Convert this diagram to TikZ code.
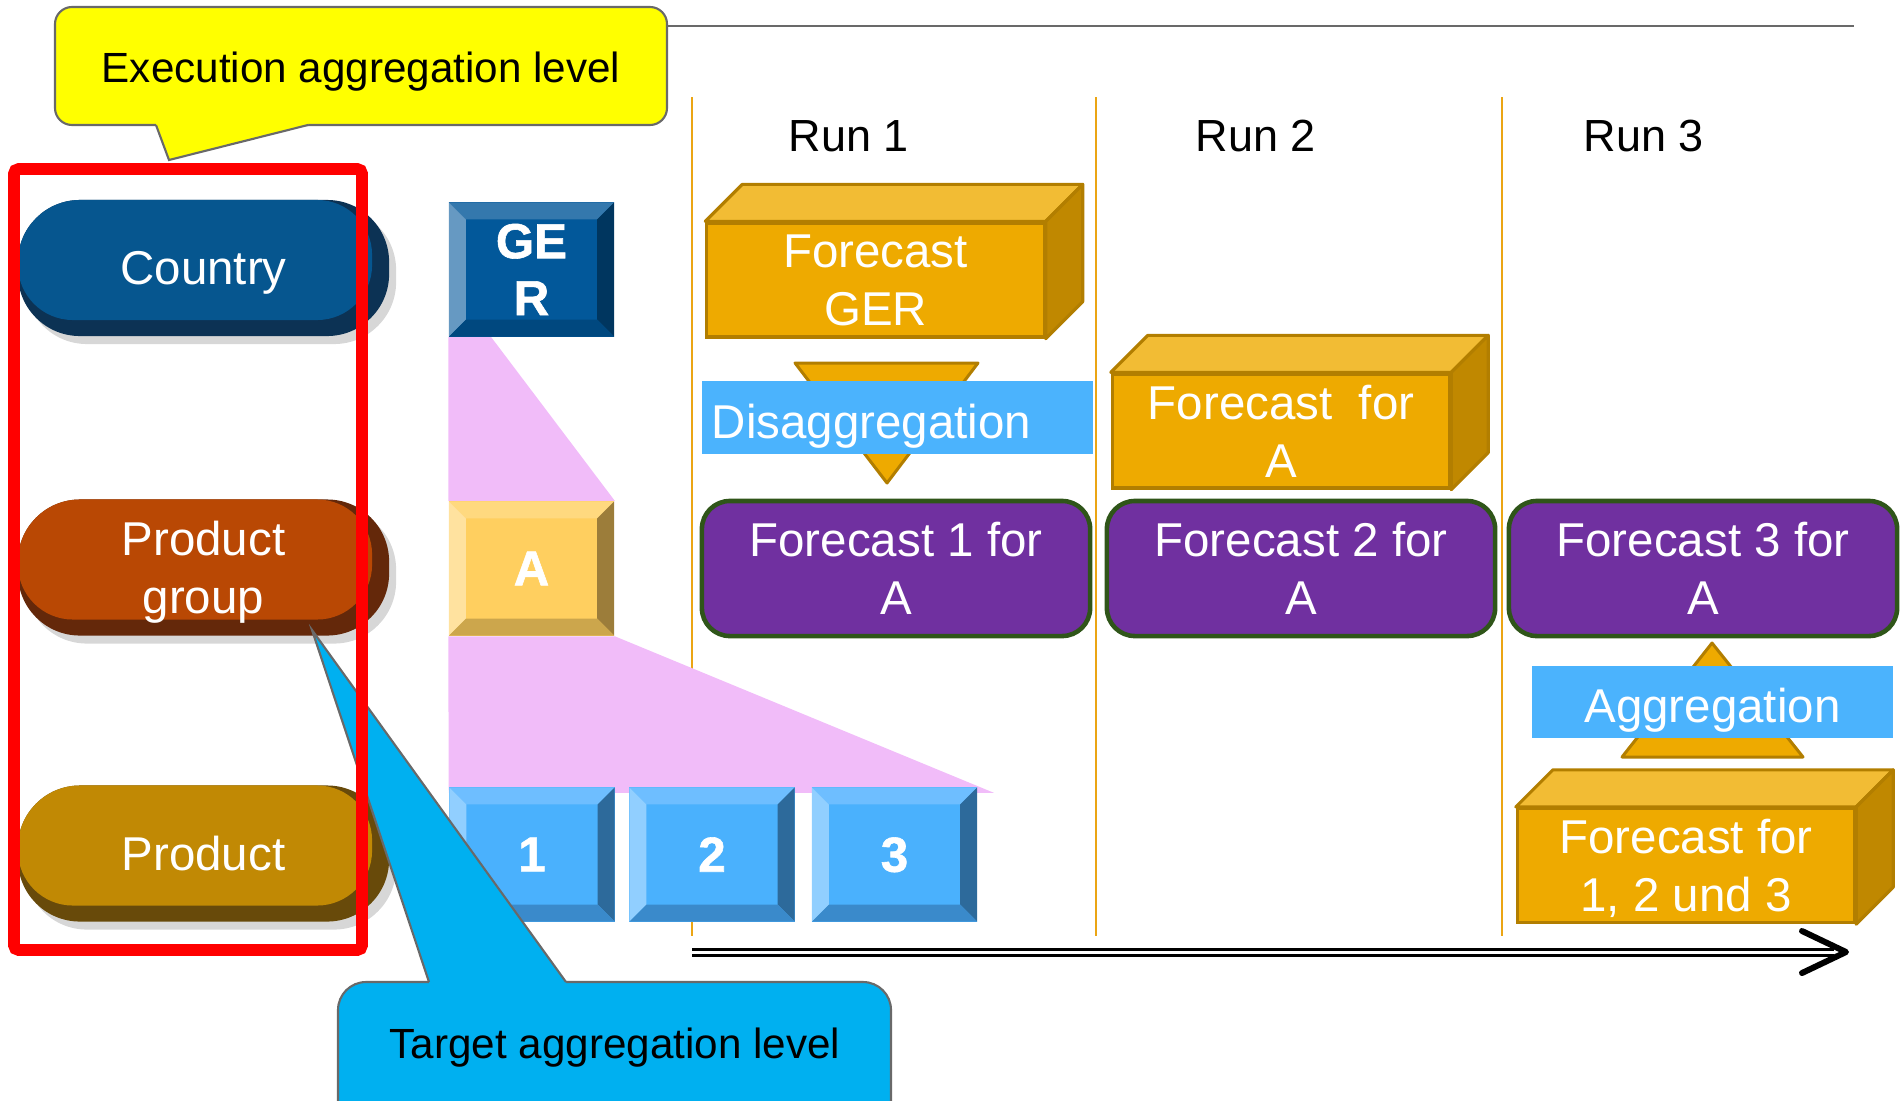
\documentclass[tikz,border=0pt]{standalone}
\usepackage{fontspec}
\setmainfont{Liberation Sans}
\newfontfamily\heavyfont[FakeBold=1.2]{Liberation Sans Bold}
\usetikzlibrary{shadows,backgrounds}

\definecolor{countryface}{RGB}{6,86,143}
\definecolor{countryrim}{RGB}{12,50,84}
\definecolor{groupface}{RGB}{185,72,4}
\definecolor{grouprim}{RGB}{100,40,10}
\definecolor{productface}{RGB}{193,137,4}
\definecolor{productrim}{RGB}{104,74,10}
\definecolor{gerface}{RGB}{2,88,154}
\definecolor{gertop}{RGB}{52,120,173}
\definecolor{gerleft}{RGB}{102,153,194}
\definecolor{gerright}{RGB}{0,54,95}
\definecolor{gerbottom}{RGB}{0,72,127}
\definecolor{aface}{RGB}{255,207,95}
\definecolor{atop}{RGB}{255,217,127}
\definecolor{aleft}{RGB}{255,226,159}
\definecolor{aright}{RGB}{156,125,58}
\definecolor{abottom}{RGB}{204,166,76}
\definecolor{itemface}{RGB}{74,177,253}
\definecolor{itemtop}{RGB}{110,190,255}
\definecolor{itemleft}{RGB}{145,207,255}
\definecolor{itemright}{RGB}{45,106,155}
\definecolor{itembottom}{RGB}{58,138,203}
\definecolor{wedgepink}{RGB}{241,188,249}
\definecolor{cubefront}{RGB}{238,170,0}
\definecolor{cubetopc}{RGB}{242,188,52}
\definecolor{cubesidec}{RGB}{192,136,0}
\definecolor{cubeline}{RGB}{178,126,0}
\definecolor{fcpurple}{RGB}{112,48,160}
\definecolor{fcgreen}{RGB}{47,85,25}
\definecolor{barblue}{RGB}{75,179,253}
\definecolor{runorange}{RGB}{235,165,20}
\definecolor{callyellow}{RGB}{255,255,0}
\definecolor{calltarget}{RGB}{0,176,240}
\definecolor{callline}{RGB}{105,105,105}

\begin{document}
\begin{tikzpicture}[x=0.01cm, y=-0.01cm,
  every node/.style={text=white, align=center, inner sep=0pt, text depth=0pt,
    font=\fontsize{13.5}{16.5}\selectfont},
  pill/.style n args={2}{rectangle, rounded corners=0.62cm,
    minimum width=3.71cm, minimum height=1.36cm, fill=#2,
    drop shadow={shadow xshift=0.07cm, shadow yshift=-0.08cm, fill=black!45, opacity=0.35},
    path picture={\fill[#1, rounded corners=0.55cm] (path picture bounding box.north west)
      rectangle ([shift={(-0.17cm,0.16cm)}]path picture bounding box.south east);}},
  bevel/.style n args={5}{rectangle, fill=#1, minimum width=1.65cm, minimum height=1.34cm,
    font=\heavyfont\fontsize{14}{16.2}\selectfont,
    path picture={
      \path (path picture bounding box.north west) coordinate (pnw)
            (path picture bounding box.north east) coordinate (pne)
            (path picture bounding box.south west) coordinate (psw)
            (path picture bounding box.south east) coordinate (pse);
      \fill[#2] (pnw) -- (pne) -- ([shift={(-0.17cm,-0.17cm)}]pne) -- ([shift={(0.17cm,-0.17cm)}]pnw) -- cycle;
      \fill[#3] (pnw) -- ([shift={(0.17cm,-0.17cm)}]pnw) -- ([shift={(0.17cm,0.17cm)}]psw) -- (psw) -- cycle;
      \fill[#4] (pne) -- (pse) -- ([shift={(-0.17cm,0.17cm)}]pse) -- ([shift={(-0.17cm,-0.17cm)}]pne) -- cycle;
      \fill[#5] (psw) -- ([shift={(0.17cm,0.17cm)}]psw) -- ([shift={(-0.17cm,0.17cm)}]pse) -- (pse) -- cycle;}},
  gerbox/.style={bevel={gerface}{gertop}{gerleft}{gerright}{gerbottom}},
  abox/.style={bevel={aface}{atop}{aleft}{aright}{abottom}},
  itembox/.style={bevel={itemface}{itemtop}{itemleft}{itemright}{itembottom}},
  cube/.style={rectangle, fill=cubefront, draw=cubeline, line width=0.9pt,
    minimum width=3.37cm, minimum height=1.14cm},
  cubetop/.style={fill=cubetopc, draw=cubeline, line width=0.9pt, line join=round},
  cubeside/.style={fill=cubesidec, draw=cubeline, line width=0.9pt, line join=round},
  forecast/.style={rectangle, rounded corners=0.28cm, fill=fcpurple, draw=fcgreen,
    line width=1.3pt, minimum width=3.88cm, minimum height=1.35cm},
  aggbar/.style={rectangle, fill=barblue, minimum height=0.72cm, text height=11.7pt},
  tri/.style={fill=cubefront, draw=cubeline, line width=0.85pt, line join=round},
  runlabel/.style={text=black, font=\fontsize{12.8}{15}\selectfont},
  calltext/.style={text=black, font=\fontsize{12}{14}\selectfont},
  callbox/.style={draw=callline, line width=0.6pt},
  runline/.style={draw=runorange, line width=0.6pt},
  timeline/.style={draw=black, double=white, double distance=0.03cm, line width=0.03cm},
  timetip/.style={draw=black, line width=1.7pt, line cap=round, line join=round}]
\clip (0,0) rectangle (1904,1100);

% run labels
\node[runlabel] (run1) at (849,136) {Run 1};
\node[runlabel] (run2) at (1256,136) {Run 2};
\node[runlabel] (run3) at (1644,136) {Run 3};

% aggregation levels
\node[pill={countryface}{countryrim}] (country) at (203.5,268) {Country};
\node[pill={groupface}{grouprim}] (group) at (203.5,567.5) {Product\\group};
\node[pill={productface}{productrim}] (product) at (203.5,853.5) {Product};

% hierarchy
\node[gerbox] (ger) at (531.5,269.5) {GE\\R};
\node[abox] (a) at (531.5,568.5) {A};
\node[itembox] (p1) at (532,854.5) {1};
\node[itembox] (p2) at (712,854.5) {2};
\node[itembox] (p3) at (894.5,854.5) {3};

\begin{scope}[on background layer]
\draw[callline, line width=0.7pt] (666,26) -- (1854,26);
\foreach \x in {692,1096,1502}
  \draw[runline] (\x,97) -- (\x,936);
\fill[wedgepink] (ger.south west) -- ([xshift=0.43cm]ger.south west) -- (a.north east) -- (a.north west) -- cycle;
\fill[wedgepink] (a.south west) -- (a.south east) -- ([shift={(0.16cm,-0.06cm)}]p3.north east)
  -- ([yshift=-0.06cm]p1.north west) -- cycle;
\end{scope}

% run 1
\node[cube] (fcger) at (875.5,280) {Forecast\\GER};
\draw[cubetop] (fcger.north west) -- ++(37,-37) -- ([shift={(0.37cm,0.37cm)}]fcger.north east) -- (fcger.north east) -- cycle;
\draw[cubeside] (fcger.north east) -- ++(37,-37) -- ([shift={(0.37cm,0.37cm)}]fcger.south east) -- (fcger.south east) -- cycle;
\draw[tri] (795,363) -- (978,363) -- (887,483) -- cycle;
\node[aggbar, anchor=west, text width=3.71cm, align=left, inner xsep=0.1cm] (disagg) at (701,417.5) {Disaggregation};
\node[forecast] (fc1) at (896,568.5) {Forecast 1 for\\A};

% run 2
\node[cube] (fca) at (1281,431) {Forecast\ \ for\\A};
\draw[cubetop] (fca.north west) -- ++(37,-37) -- ([shift={(0.37cm,0.37cm)}]fca.north east) -- (fca.north east) -- cycle;
\draw[cubeside] (fca.north east) -- ++(37,-37) -- ([shift={(0.37cm,0.37cm)}]fca.south east) -- (fca.south east) -- cycle;
\node[forecast] (fc2) at (1301,568.5) {Forecast 2 for\\A};

% run 3
\node[forecast] (fc3) at (1703,568.5) {Forecast 3 for\\A};
\draw[tri] (1712,643) -- (1803,757) -- (1622,757) -- cycle;
\node[aggbar, minimum width=3.61cm] (agg) at (1712.5,702) {Aggregation};
\node[cube, text depth=-2.3pt] (fcitems) at (1686,865.5) {Forecast for\\1, 2 und 3};
\draw[cubetop] (fcitems.north west) -- ++(37,-37) -- ([shift={(0.37cm,0.37cm)}]fcitems.north east) -- (fcitems.north east) -- cycle;
\draw[cubeside] (fcitems.north east) -- ++(37,-37) -- ([shift={(0.37cm,0.37cm)}]fcitems.south east) -- (fcitems.south east) -- cycle;

% time axis
\coordinate (tstart) at (692,952);
\coordinate (tend) at (1846,952);
\draw[timeline] (tstart) -- ([xshift=-0.12cm]tend);
\draw[timetip] ([shift={(-0.44cm,0.21cm)}]tend) -- (tend) -- ([shift={(-0.44cm,-0.21cm)}]tend);

% callouts
\draw[callbox, fill=calltarget, rounded corners=0.28cm] (338,982) rectangle (891,1140);
\fill[calltarget] (429,986) -- (429,982) -- (312,630) -- (566,982) -- (566,986) -- cycle;
\draw[callbox] (429,982) -- (312,630) -- (566,982);
\node[calltext] (target) at (615,1043) {Target aggregation level};

\draw[callbox, fill=callyellow, rounded corners=0.17cm] (55,7) rectangle (667,125);
\fill[callyellow] (156,121) -- (156,125) -- (169,160) -- (308,125) -- (308,121) -- cycle;
\draw[callbox] (156,125) -- (169,160) -- (308,125);
\node[calltext] (execution) at (361,67) {Execution aggregation level};

% selected level
\draw[red, line width=3.4pt, rounded corners=0.05cm] (14,169) rectangle (362,950);
\end{tikzpicture}
\end{document}
